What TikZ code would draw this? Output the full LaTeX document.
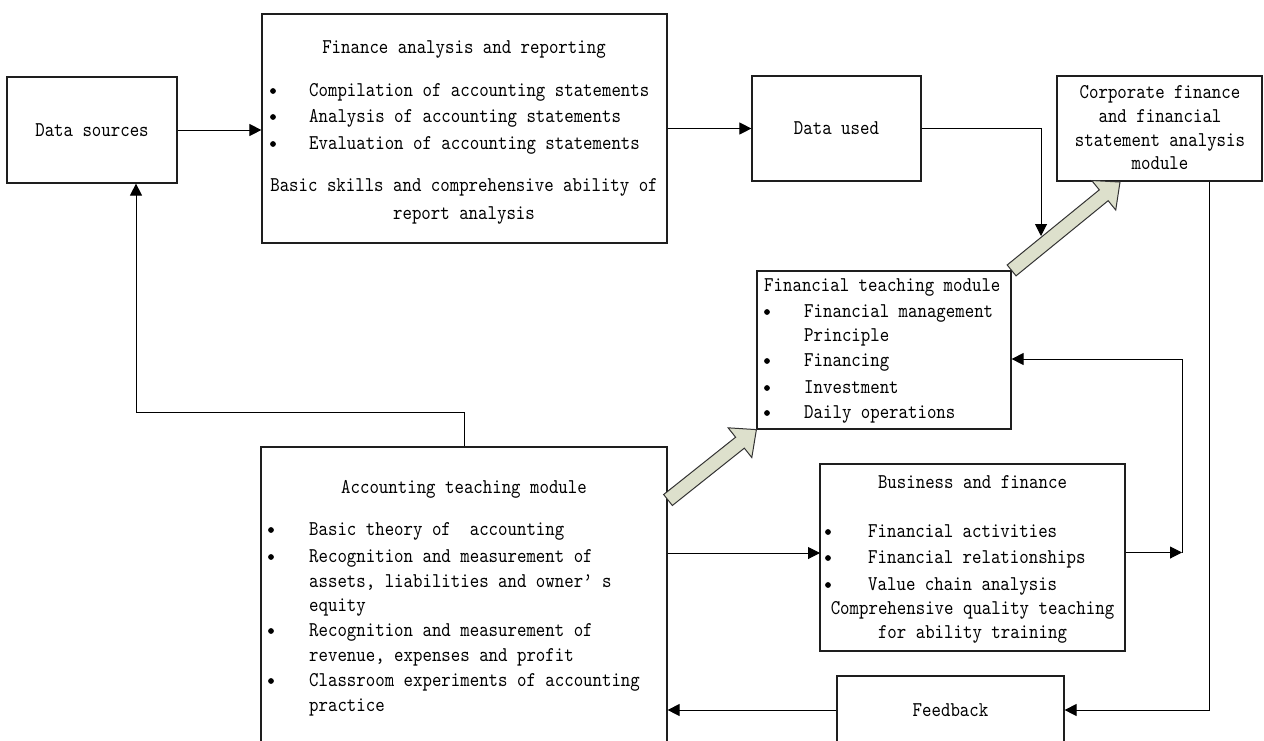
\documentclass[tikz,border=0pt]{standalone}
\usepackage{fontspec}
\newfontfamily\dgfont{lmmono10-regular.otf}[FakeStretch=0.857]
\usetikzlibrary{arrows.meta,calc}
\definecolor{fatfill}{RGB}{221,224,204}
\definecolor{linec}{RGB}{30,30,30}
\tikzset{
  box/.style={draw=linec, line width=1.2pt, rectangle, inner sep=0pt, font=\dgfont\fontsize{21}{25}\selectfont},
  conn/.style={draw=black, line width=1pt},
  arr/.style={conn, -{Triangle[length=12pt,width=12pt]}},
  txt/.style={inner sep=0pt, anchor=mid, yshift=-3pt, font=\dgfont\fontsize{21}{25}\selectfont},
  txtl/.style={txt, anchor=mid west},
  fat/.style={draw=black!80, line width=1pt, fill=fatfill, line join=miter},
}
\newcommand\fatarrow[2]{%
  \coordinate (fab) at ($(#2)!21pt!(#1)$);
  \filldraw[fat] ($(#1)!7pt!90:(#2)$) -- ($(fab)!7pt!90:(#2)$) -- ($(fab)!19pt!90:(#2)$) -- (#2)
    -- ($(fab)!19pt!-90:(#2)$) -- ($(fab)!7pt!-90:(#2)$) -- ($(#1)!7pt!-90:(#2)$) -- cycle;}
\newcommand\bul[2]{\fill (#1,#2) circle (2.9pt);}
\begin{document}
\begin{tikzpicture}[x=1pt,y=-1pt]
\clip (0,0) rectangle (1264,740);
\fill[white] (0,0) rectangle (1264,740);

% boxes
\node[box, minimum width=170pt, minimum height=106pt] (ds) at (92,130) {Data sources};
\node[box, minimum width=405pt, minimum height=229pt] (fa) at (464.5,128.5) {};
\node[box, minimum width=169pt, minimum height=105pt] (du) at (836.5,128.5) {Data used};
\node[box, minimum width=205pt, minimum height=105pt] (corp) at (1159.5,128.5) {};
\node[box, minimum width=254pt, minimum height=158pt] (fin) at (884,350) {};
\node[box, minimum width=406pt, minimum height=298pt] (acc) at (464,596) {};
\node[box, minimum width=305pt, minimum height=187pt] (bus) at (972.5,557.5) {};
\node[box, minimum width=227pt, minimum height=68pt] (fb) at (950.5,710) {Feedback};

% finance analysis text
\node[txt] (fa1) at (464,48) {Finance analysis and reporting};
\bul{273}{91}\bul{273}{117}\bul{273}{144}
\node[txtl] (fa2) at (309,91) {Compilation of accounting statements};
\node[txtl] (fa3) at (309,117) {Analysis of accounting statements};
\node[txtl] (fa4) at (309,144) {Evaluation of accounting statements};
\node[txt] (fa5) at (464,186) {Basic skills and comprehensive ability of};
\node[txt] (fa6) at (464,214) {report analysis};

% corporate text
\node[txt] (cp1) at (1160,93) {Corporate finance};
\node[txt] (cp2) at (1160,117) {and financial};
\node[txt] (cp3) at (1160,141) {statement analysis};
\node[txt] (cp4) at (1160,164) {module};

% financial teaching text
\node[txtl] (ft0) at (764,286) {Financial teaching module};
\bul{767}{312}\bul{767}{361}\bul{767}{388}\bul{767}{413}
\node[txtl] (ft1) at (804,312) {Financial management};
\node[txtl] (ft2) at (804,336) {Principle};
\node[txtl] (ft3) at (804,361) {Financing};
\node[txtl] (ft4) at (804,388) {Investment};
\node[txtl] (ft5) at (804,413) {Daily operations};

% accounting text
\node[txt] (ac0) at (464,488) {Accounting teaching module};
\bul{271}{530}\bul{271}{557}\bul{271}{631}\bul{271}{681}
\node[txtl] (ac1) at (309,530) {Basic theory of\ \ accounting};
\node[txtl] (ac2) at (309,557) {Recognition and measurement of};
\node[txtl] (ac3) at (309,582) {assets, liabilities and owner’ s};
\node[txtl] (ac4) at (309,606) {equity};
\node[txtl] (ac5) at (309,631) {Recognition and measurement of};
\node[txtl] (ac6) at (309,656) {revenue, expenses and profit};
\node[txtl] (ac7) at (309,681) {Classroom experiments of accounting};
\node[txtl] (ac8) at (309,706) {practice};

% business text
\node[txt] (bf0) at (972.5,483) {Business and finance};
\bul{828}{532}\bul{828}{558}\bul{828}{585}
\node[txtl] (bf1) at (868,532) {Financial activities};
\node[txtl] (bf2) at (868,558) {Financial relationships};
\node[txtl] (bf3) at (868,585) {Value chain analysis};
\node[txt] (bf4) at (972.5,609) {Comprehensive quality teaching};
\node[txt] (bf5) at (972.5,633) {for ability training};

% fat arrows
\coordinate (a1h) at (1120,182);
\coordinate (a2t) at (668,500);
\fatarrow{fin.north east}{a1h}
\fatarrow{a2t}{fin.south west}

% connectors
\coordinate (drop) at (1041,236);
\coordinate (bj) at (820,553);
\coordinate (rj) at (1182,552.5);
\draw[arr] (ds.east) -- (ds.east -| fa.west);
\draw[arr] (fa.east) -- (du.west);
\draw[arr] (du.east) -| (drop);
\draw[arr] (acc.north) -- ++(0,-34) -| ($(ds.south)+(44,0)$);
\draw[arr] (bj -| acc.east) -- (bj);
\draw[arr] ($(bus.east)+(0,-5)$) -- (rj);
\draw[arr] (rj) |- ($(fin.east)+(0,9)$);
\draw[arr] ($(corp.south)+(49.5,0)$) |- (fb.east);
\draw[arr] (fb.west) -- (fb.west -| acc.east);
\end{tikzpicture}
\end{document}
